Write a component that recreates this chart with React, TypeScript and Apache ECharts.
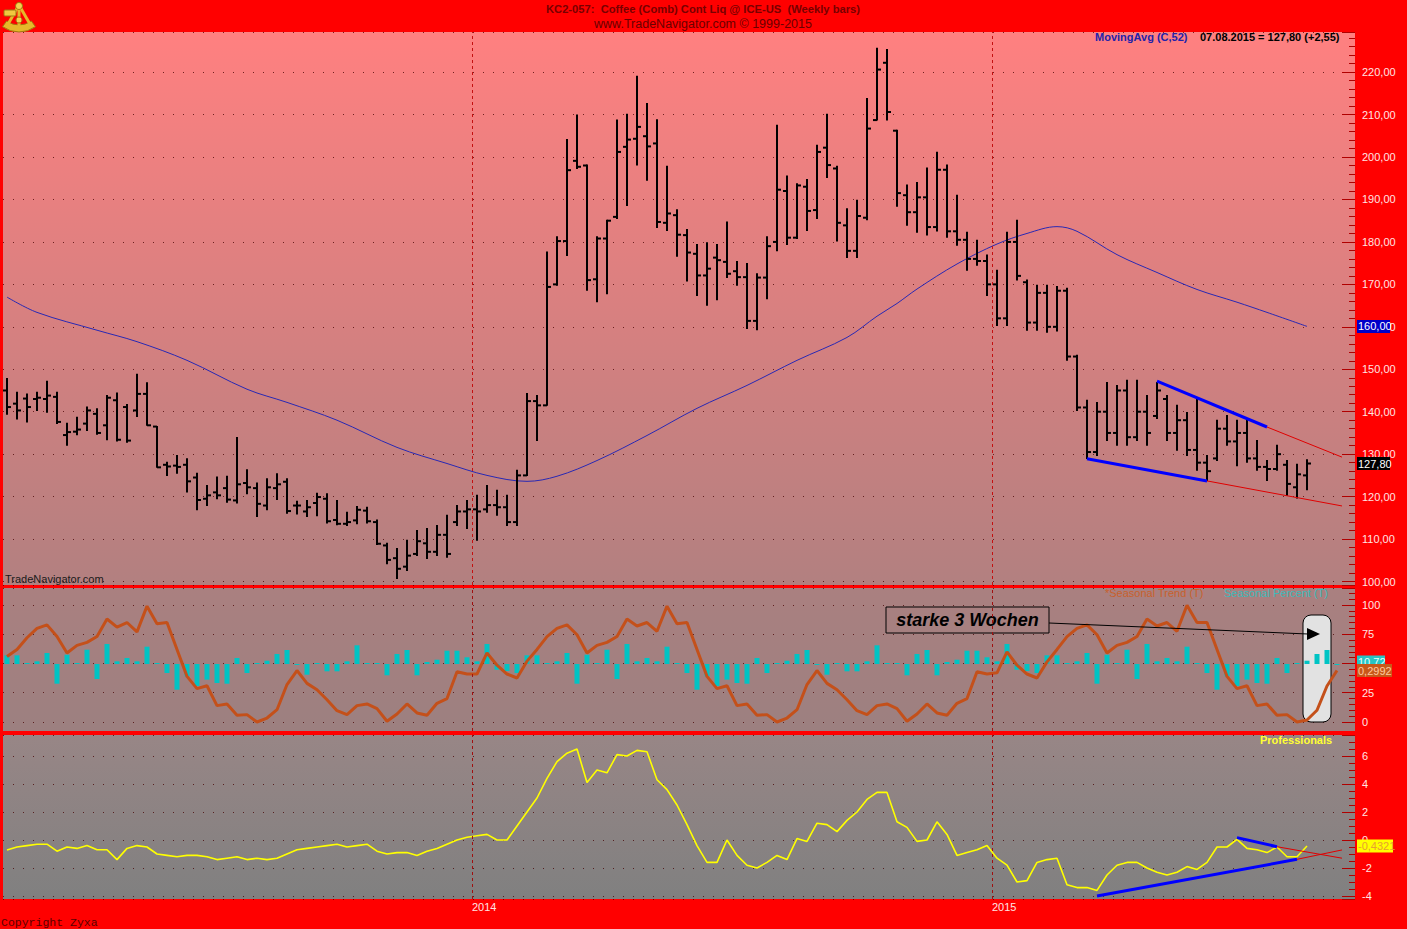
import React, { useEffect, useRef } from "react";
import * as echarts from "echarts";

// ---------------- DATA ----------------
// weekly bars [open, high, low, close], index 0 = week of 15.02.2013, index 130 = 07.08.2015
const OHLC: number[][] = [
  [145.0, 147.8, 139.4, 141.1], [141.9, 144.6, 138.3, 140.3], [143.1, 144.2, 137.6, 141.1], [143.0, 144.6, 140.3, 143.3],
  [143.0, 147.2, 139.9, 143.8], [143.5, 144.6, 137.2, 137.6], [134.5, 137.3, 132.1, 135.2], [135.3, 138.7, 134.6, 135.8],
  [137.2, 141.1, 135.6, 140.3], [139.5, 140.7, 134.7, 135.0], [136.8, 143.8, 133.4, 143.3], [142.7, 144.4, 133.1, 133.4],
  [141.1, 141.7, 132.8, 133.2], [140.3, 148.8, 138.9, 144.2], [144.2, 146.8, 136.8, 136.8], [136.5, 136.5, 126.9, 126.9],
  [127.5, 128.1, 125.0, 127.1], [127.3, 129.7, 125.5, 127.0], [127.5, 128.9, 121.1, 123.6], [124.5, 125.5, 116.9, 119.2],
  [119.5, 122.6, 117.9, 120.3], [121.0, 124.6, 119.5, 120.3], [122.0, 124.8, 118.7, 119.3], [119.1, 133.9, 118.5, 122.9],
  [123.2, 126.3, 120.7, 122.2], [122.0, 123.2, 115.3, 118.3], [117.9, 124.2, 116.9, 122.2], [122.0, 125.4, 119.3, 122.9],
  [123.5, 124.2, 116.1, 116.6], [117.9, 118.9, 115.9, 117.9], [116.5, 119.1, 115.3, 117.5], [118.5, 120.8, 115.5, 119.9],
  [119.5, 120.7, 113.8, 114.2], [114.5, 119.1, 113.4, 113.6], [113.6, 116.3, 113.2, 114.0], [114.4, 117.7, 113.6, 116.9],
  [116.7, 117.5, 113.8, 114.2], [114.0, 114.5, 108.7, 108.9], [108.5, 109.0, 104.2, 105.1], [105.5, 107.8, 100.7, 103.0],
  [103.5, 109.7, 102.6, 106.1], [106.5, 112.0, 106.1, 109.5], [109.0, 112.5, 105.4, 107.0], [107.0, 113.2, 106.1, 111.0],
  [111.0, 115.6, 105.7, 106.5], [114.0, 117.9, 113.2, 116.5], [116.5, 119.1, 112.5, 117.0], [117.0, 120.3, 109.7, 116.5],
  [117.0, 122.6, 116.3, 118.0], [118.0, 121.5, 115.6, 117.5], [117.5, 120.3, 113.2, 114.0], [114.0, 126.2, 113.2, 125.0],
  [125.0, 144.3, 125.0, 142.5], [142.5, 143.8, 133.2, 141.5], [141.5, 177.6, 141.5, 169.4], [170.0, 181.2, 169.8, 180.2],
  [180.2, 204.1, 176.8, 196.9], [199.1, 209.9, 197.3, 197.7], [198.0, 198.1, 168.6, 171.0], [171.2, 181.2, 165.9, 180.8],
  [180.8, 185.1, 167.8, 185.0], [185.9, 208.7, 185.5, 201.2], [202.4, 210.1, 188.6, 204.1], [204.3, 219.0, 198.1, 207.1],
  [204.9, 212.6, 194.5, 202.5], [203.2, 208.8, 183.4, 184.7], [184.5, 197.8, 182.7, 186.7], [186.3, 187.6, 176.6, 181.7],
  [181.6, 182.9, 170.8, 177.5], [177.2, 179.4, 167.4, 172.1], [172.1, 179.8, 165.1, 173.7], [176.3, 179.4, 166.4, 175.7],
  [175.3, 184.7, 171.6, 172.5], [173.1, 175.4, 169.8, 171.7], [171.7, 174.9, 159.6, 161.4], [161.4, 172.5, 159.3, 171.6],
  [171.6, 181.2, 166.6, 179.0], [180.0, 207.5, 177.9, 192.3], [192.0, 195.5, 179.4, 181.0], [181.0, 193.7, 180.8, 193.3],
  [193.0, 194.7, 182.7, 187.3], [187.5, 202.8, 185.5, 201.2], [202.2, 210.1, 195.2, 198.1], [197.3, 197.8, 180.2, 184.5],
  [183.9, 187.8, 176.3, 177.9], [177.9, 189.8, 176.3, 186.1], [185.7, 213.8, 185.2, 206.7], [208.7, 225.6, 208.7, 220.6],
  [222.2, 225.3, 208.7, 210.6], [206.2, 206.3, 188.4, 191.5], [191.0, 193.4, 183.9, 187.0], [187.0, 194.0, 182.3, 190.5],
  [190.5, 197.4, 181.6, 183.5], [183.5, 201.1, 182.6, 197.0], [197.0, 198.1, 181.1, 182.5], [182.5, 191.0, 179.2, 180.5],
  [180.5, 182.3, 173.3, 176.0], [176.0, 180.4, 174.5, 175.5], [175.5, 176.9, 167.4, 170.0], [170.0, 173.3, 160.3, 162.0],
  [162.0, 182.3, 160.3, 180.0], [180.0, 185.1, 171.0, 172.0], [170.5, 171.0, 159.2, 161.0], [161.0, 169.8, 159.2, 168.0],
  [168.0, 169.8, 158.7, 160.0], [160.0, 169.5, 159.0, 168.5], [168.5, 169.1, 152.1, 153.0], [153.0, 153.3, 140.3, 141.0],
  [141.0, 142.7, 129.0, 130.5], [130.5, 142.2, 129.7, 140.0], [140.0, 146.9, 133.2, 135.0], [135.0, 146.2, 132.1, 145.0],
  [145.0, 147.4, 132.1, 134.0], [134.0, 147.4, 133.2, 140.0], [140.0, 143.8, 132.1, 135.0], [139.0, 146.9, 138.4, 145.0],
  [143.0, 143.8, 133.2, 135.0], [135.0, 141.5, 130.9, 138.0], [138.0, 139.8, 129.7, 131.0], [131.0, 143.1, 126.2, 128.0],
  [128.0, 129.7, 123.8, 126.0], [129.0, 138.0, 128.5, 136.0], [136.0, 139.1, 132.1, 133.0], [133.0, 138.0, 127.3, 135.0],
  [135.0, 138.0, 128.1, 129.0], [129.0, 133.2, 126.2, 127.0], [127.0, 128.5, 123.8, 126.5], [126.5, 132.1, 126.2, 130.0],
  [127.5, 128.5, 120.3, 123.0], [122.2, 127.6, 119.7, 125.25], [125.0, 128.7, 121.6, 127.8],
];

// MovingAvg (C,52) read at [week index, value]
const MA_POINTS: number[][] = [
  [0, 167.0], [3, 163.4], [9, 159.2], [13, 156.5], [18, 152.1], [24, 145.3], [28, 142.2], [33, 138.0],
  [39, 131.6], [44, 127.8], [48, 125.0], [52, 123.6], [55, 124.8], [59, 128.5], [64, 134.4], [69, 140.8],
  [74, 146.2], [79, 152.1], [84, 157.5], [87, 162.5], [89, 165.5], [91, 168.9], [95, 174.8], [99, 179.5],
  [102, 182.0], [105, 183.6], [107, 182.5], [111, 177.0], [115, 172.8], [119, 168.8], [123, 165.8],
  [126, 163.4], [130, 160.1],
];

const SEASONAL_TREND: number[] = [
  56, 62, 72, 80, 83, 73, 59, 65.5, 68, 73, 88, 81, 85, 77, 99, 84, 85, 62, 39, 28.5, 31, 14, 15.4, 5.7, 6.3, 0,
  3.4, 10.5, 32, 44, 33, 27.6, 19, 9.7, 6.3, 14, 15.4, 11.4, 0.6, 6.8, 15.4, 7.7, 5.7, 16, 20, 43, 41, 41, 59, 48.5, 41, 37.6,
  52, 62, 73, 80, 83, 74.6, 59, 65.5, 68, 73, 88, 82, 85, 77.5, 99, 84, 85, 62, 39, 28.5, 31, 14, 15.4, 5.7, 6.3, 0,
  3.4, 10.5, 32, 44, 33, 27.6, 19, 9.7, 6.3, 14, 15.4, 11.4, 0.6, 6.8, 15.4, 7.7, 5.7, 16, 20, 43, 41, 42, 60, 48.5, 41, 37.6,
  51.4, 62, 73, 80, 83, 74.6, 59, 65.5, 68, 73, 88, 82, 85, 77.5, 99.8, 85, 85, 62, 39, 28.5, 31, 14, 15.4, 5.7, 6.3, 0,
  1.7, 10, 30.8, 44,
];

const SEASONAL_PERCENT: number[] = [
  8.7, 8.7, 1, 2.7, 11, -19.7, 9.3, 1, 14.3, -15, 20, 2.7, 6, 2.7, 17.3, 1, -9, -25.7, -12.3, -22, -15.7, -19, -19.7, 6, -9, 1,
  3.3, 10, 14, -1, -10.7, 1, -7.3, -7.3, 2.7, 18.7, 1, 1, -11.3, 10, 14, -11.3, 2, 4.3, 13.3, 13.3, 6.7, 2.7, 20, -5.7, -7, -9,
  8.7, 8.7, 1, 2.7, 11, -19.7, 9.3, 1, 14.3, -15, 20, 2.7, 6, 2.7, 17.3, 1, -9, -25.7, -12.3, -22, -15.7, -19, -19.7, 6, -9, 1,
  3.3, 10, 14, -1, -10.7, 1, -7.3, -7.3, 2.7, 18.7, 1, 1, -11.3, 10, 14, -11.3, 2, 4.3, 13.3, 13.3, 6.7, 2.7, 20, -5.7, -7, -9,
  8.7, 8.7, 1, 2.7, 11, -19.7, 9.3, 1, 14.3, -15, 20, 2.7, 6, 2.7, 17.3, 1, -9, -25.7, -12.3, -22, -15.7, -19, -19.7, 6, -9, 1,
  3.3, 10, 14, -1,
];

const PROFESSIONALS: number[] = [
  -0.71, -0.5, -0.4, -0.3, -0.3, -0.8, -0.5, -0.6, -0.4, -0.7,
  -0.7, -1.4, -0.6, -0.4, -0.5, -1.0, -1.1, -1.2, -1.1, -1.1,
  -1.2, -1.4, -1.3, -1.2, -1.4, -1.3, -1.4, -1.3, -1.0, -0.7,
  -0.6, -0.5, -0.4, -0.3, -0.5, -0.4, -0.3, -0.8, -1.0, -0.9,
  -0.9, -1.1, -0.8, -0.6, -0.3, 0.0, 0.2, 0.3, 0.4, 0.0,
  0.0, 1.0, 2.0, 3.0, 4.4, 5.6, 6.2, 6.5, 4.1, 5.0,
  4.8, 6.1, 6.0, 6.4, 6.3, 4.3, 3.6, 2.5, 1.1, -0.4,
  -1.6, -1.6, 0.0, -1.1, -1.8, -2.0, -1.6, -1.1, -1.4, 0.1,
  -0.1, 1.2, 1.1, 0.6, 1.4, 2.0, 2.9, 3.4, 3.4, 1.3,
  0.9, -0.1, 0.0, 1.3, 0.4, -1.1, -0.9, -0.7, -0.4, -1.3,
  -1.8, -3.0, -2.9, -1.6, -1.4, -1.3, -3.2, -3.4, -3.4, -3.6,
  -2.5, -1.8, -1.6, -1.6, -2.0, -2.3, -2.5, -2.3, -1.9, -2.1,
  -1.6, -0.5, -0.5, 0.05, -0.6, -0.7, -0.9, -0.5, -1.2, -1.2,
  -0.43,
];

// year boundaries (between week indices) and their labels
const YEAR_MARKS = [
  { pos: 46.5, label: "2014" },
  { pos: 98.5, label: "2015" },
];

// drawn trend lines [[x1, y1], [x2, y2]]
const PRICE_BLUE: number[][][] = [[[115, 147.2], [126, 136.4]], [[108, 128.9], [120, 123.7]]];
const PRICE_RED: number[][][] = [[[126, 136.4], [133.5, 129.3]], [[120, 123.7], [133.5, 117.8]]];
const PROF_BLUE: number[][][] = [[[123, 0.17], [127, -0.48]], [[109, -4.0], [129, -1.38]]];
const PROF_RED: number[][][] = [[[127, -0.48], [133.5, -1.3]], [[129, -1.38], [133.5, -0.71]]];

const TITLE_1 = "KC2-057:  Coffee (Comb) Cont Liq @ ICE-US  (Weekly bars)";
const TITLE_2 = "www.TradeNavigator.com \u00a9 1999-2015";
const MA_LEGEND = "MovingAvg (C,52)";
const LAST_INFO = "07.08.2015 = 127,80 (+2,55)";

const W = 1407;
const H = 929;
const FONT = "'Liberation Sans', Arial, sans-serif";

export default function App() {
  const ref = useRef<HTMLDivElement>(null);

  useEffect(() => {
    const el = ref.current;
    if (!el) return;
    const chart = echarts.init(el, null, { renderer: "svg", width: W, height: H });

    const tickColor = "#b00000";
    const labelColor = "#ffe4e4";
    const splitStyle = { color: "rgba(70,0,0,0.75)", type: [1, 9], width: 1 };
    const comma2 = (v: number) => v.toFixed(2).replace(".", ",");

    const gl = 3;
    const gw = 1352;
    const grids = [
      { left: gl, top: 32, width: gw, height: 553 },
      { left: gl, top: 588, width: gw, height: 143 },
      { left: gl, top: 588, width: gw, height: 134 },
      { left: gl, top: 735, width: gw, height: 164 },
    ];
    const xAxes = grids.map((_, i) => ({
      gridIndex: i, type: "value", min: -0.4, max: 134.8, show: false,
      axisLine: { show: false, onZero: false },
    }));

    const rightAxisCommon = {
      type: "value",
      position: "right",
      axisLine: { show: false, onZero: false },
      axisTick: { show: true, inside: true, length: 13, lineStyle: { color: tickColor } },
      splitLine: { show: true, lineStyle: splitStyle },
    };

    const yearLine = (color: string) => ({
      silent: true,
      symbol: ["none", "none"],
      label: { show: false },
      lineStyle: { color, type: [3, 3], width: 1 },
      data: YEAR_MARKS.map((m) => ({ xAxis: m.pos })),
    });

    const segSeries = (segs: number[][][], xi: number, yi: number, color: string, width: number) =>
      segs.map((s) => ({
        type: "line", xAxisIndex: xi, yAxisIndex: yi, data: s, symbol: "none", silent: true,
        lineStyle: { color, width }, z: 4, clip: false,
      }));

    const gold = "#e6b82a";
    const goldDark = "#a07810";

    const option: any = {
      animation: false,
      backgroundColor: "#ff0000",
      grid: grids,
      xAxis: xAxes,
      yAxis: [
        {
          ...rightAxisCommon, gridIndex: 0, min: 99.18, max: 229.45, splitNumber: 13,
          minorTick: { show: true, splitNumber: 5, length: 6, lineStyle: { color: tickColor } },
          axisLabel: {
            color: labelColor, fontSize: 11, fontFamily: FONT, margin: 7,
            showMinLabel: false, showMaxLabel: false, formatter: comma2,
          },
        },
        {
          gridIndex: 1, type: "value", min: -67, max: 76, show: false, splitLine: { show: false },
          axisLine: { show: false, onZero: false },
        },
        {
          ...rightAxisCommon, gridIndex: 2, min: 0, max: 114.5, interval: 25,
          minorTick: { show: true, splitNumber: 5, length: 6, lineStyle: { color: tickColor } },
          axisLabel: { color: labelColor, fontSize: 11, fontFamily: FONT, margin: 7, showMaxLabel: false },
        },
        {
          ...rightAxisCommon, gridIndex: 3, min: -4.214, max: 7.5, splitNumber: 6,
          minorTick: { show: true, splitNumber: 4, length: 6, lineStyle: { color: tickColor } },
          axisLabel: {
            color: labelColor, fontSize: 11, fontFamily: FONT, margin: 7,
            showMinLabel: false, showMaxLabel: false,
          },
        },
      ],
      series: [
        {
          type: "custom", xAxisIndex: 0, yAxisIndex: 0, z: 3,
          data: OHLC.map((d, i) => [i, d[0], d[1], d[2], d[3]]),
          encode: { x: 0, y: [1, 2, 3, 4] },
          renderItem: (_p: any, api: any) => {
            const i = api.value(0);
            const o = api.coord([i, api.value(1)]);
            const h = api.coord([i, api.value(2)]);
            const l = api.coord([i, api.value(3)]);
            const c = api.coord([i, api.value(4)]);
            const st = { stroke: "#000000", lineWidth: 2 };
            return {
              type: "group",
              children: [
                { type: "line", shape: { x1: h[0], y1: h[1] - 0.5, x2: l[0], y2: l[1] + 0.5 }, style: st },
                { type: "line", shape: { x1: o[0] - 4, y1: o[1], x2: o[0], y2: o[1] }, style: st },
                { type: "line", shape: { x1: c[0], y1: c[1], x2: c[0] + 4, y2: c[1] }, style: st },
              ],
            };
          },
        },
        {
          type: "line", xAxisIndex: 0, yAxisIndex: 0, data: MA_POINTS, symbol: "none", smooth: 0.35,
          lineStyle: { color: "#2828b4", width: 1 }, z: 2, silent: true,
          markLine: yearLine("#c41010"),
        },
        ...segSeries(PRICE_BLUE, 0, 0, "#0000ff", 3),
        ...segSeries(PRICE_RED, 0, 0, "#e00000", 1),
        {
          type: "bar", xAxisIndex: 1, yAxisIndex: 1, barWidth: 5, silent: true,
          data: SEASONAL_PERCENT.map((v, i) => [i, v]),
          itemStyle: { color: "#00c4c4" }, z: 2,
          markLine: yearLine("#a01010"),
        },
        {
          type: "line", xAxisIndex: 2, yAxisIndex: 2, symbol: "none", silent: true, clip: false,
          data: SEASONAL_TREND.map((v, i) => [i, v]),
          lineStyle: { color: "#c4501a", width: 3 }, z: 3,
        },
        {
          type: "line", xAxisIndex: 3, yAxisIndex: 3, symbol: "none", silent: true,
          data: PROFESSIONALS.map((v, i) => [i, v]),
          lineStyle: { color: "#ffff00", width: 1.6 }, z: 3,
          markLine: yearLine("#a01010"),
        },
        ...segSeries(PROF_BLUE, 3, 3, "#0000ff", 3),
        ...segSeries(PROF_RED, 3, 3, "#e00000", 1),
      ],
      graphic: [
        // panel backgrounds
        {
          id: "bg1", type: "rect", z: -10, silent: true,
          shape: { x: gl, y: 32, width: gw, height: 553 },
          style: { fill: new echarts.graphic.LinearGradient(0, 0, 0, 1, [
            { offset: 0, color: "#ff8080" }, { offset: 1, color: "#b28080" }]) },
        },
        {
          id: "bg2", type: "rect", z: -10, silent: true,
          shape: { x: gl, y: 588, width: gw, height: 143 },
          style: { fill: new echarts.graphic.LinearGradient(0, 0, 0, 1, [
            { offset: 0, color: "#aa8080" }, { offset: 1, color: "#9c8080" }]) },
        },
        {
          id: "bg3", type: "rect", z: -10, silent: true,
          shape: { x: gl, y: 735, width: gw, height: 164 },
          style: { fill: new echarts.graphic.LinearGradient(0, 0, 0, 1, [
            { offset: 0, color: "#988686" }, { offset: 1, color: "#808080" }]) },
        },
        // header
        {
          id: "t1", type: "text", z: 20, x: 703, y: 9, silent: true,
          style: { text: TITLE_1, fill: "#780000", font: `bold 11.2px ${FONT}`, align: "center", verticalAlign: "middle" },
        },
        {
          id: "t2", type: "text", z: 20, x: 703, y: 24, silent: true,
          style: { text: TITLE_2, fill: "#6a0000", font: `12.5px ${FONT}`, align: "center", verticalAlign: "middle" },
        },
        // logo (sextant)
        {
          id: "lg0", type: "sector", z: 20, silent: true,
          shape: { cx: 19, cy: 4, r0: 21, r: 28, startAngle: Math.PI * 0.3, endAngle: Math.PI * 0.7 },
          style: { fill: gold, stroke: goldDark, lineWidth: 1 },
        },
        { id: "lg2", type: "line", z: 20, silent: true, shape: { x1: 19, y1: 5, x2: 19, y2: 31 }, style: { stroke: gold, lineWidth: 3 } },
        { id: "lg3", type: "line", z: 20, silent: true, shape: { x1: 19, y1: 5, x2: 31, y2: 26 }, style: { stroke: gold, lineWidth: 3 } },
        { id: "lg4", type: "line", z: 20, silent: true, shape: { x1: 19, y1: 5, x2: 7, y2: 26 }, style: { stroke: gold, lineWidth: 3 } },
        { id: "lg5", type: "rect", z: 20, silent: true, shape: { x: 4, y: 10, width: 12, height: 6, r: 1 }, style: { fill: "#f0c840", stroke: goldDark, lineWidth: 1 } },
        { id: "lg6", type: "circle", z: 20, silent: true, shape: { cx: 19, cy: 6, r: 3.5 }, style: { fill: "#f4d050", stroke: goldDark, lineWidth: 1 } },
        { id: "lg7", type: "circle", z: 20, silent: true, shape: { cx: 19, cy: 20, r: 3 }, style: { fill: "#f4d050", stroke: goldDark, lineWidth: 1 } },
        // legends
        {
          id: "lma", type: "text", z: 20, x: 1095, y: 37, silent: true,
          style: { text: MA_LEGEND, fill: "#2222aa", font: `bold 11px ${FONT}`, verticalAlign: "middle" },
        },
        {
          id: "lli", type: "text", z: 20, x: 1200, y: 37, silent: true,
          style: { text: LAST_INFO, fill: "#000000", font: `bold 11px ${FONT}`, verticalAlign: "middle" },
        },
        {
          id: "lst", type: "text", z: 20, x: 1105, y: 593, silent: true,
          style: { text: "*Seasonal Trend (T)", fill: "#c8602c", font: `11px ${FONT}`, verticalAlign: "middle" },
        },
        {
          id: "lsp", type: "text", z: 20, x: 1224, y: 593, silent: true,
          style: { text: "Seasonal Percent (T)", fill: "#3cbaba", font: `11px ${FONT}`, verticalAlign: "middle" },
        },
        {
          id: "lpr", type: "text", z: 20, x: 1260, y: 740, silent: true,
          style: { text: "Professionals", fill: "#ffff33", font: `bold 11px ${FONT}`, verticalAlign: "middle" },
        },
        {
          id: "ltn", type: "text", z: 20, x: 5, y: 579, silent: true,
          style: { text: "TradeNavigator.com", fill: "#1a1a1a", font: `11px ${FONT}`, verticalAlign: "middle" },
        },
        {
          id: "lcp", type: "text", z: 20, x: 1, y: 922, silent: true,
          style: { text: "Copyright Zyxa", fill: "#5a0000", font: `11.5px 'Liberation Mono', 'Courier New', monospace`, verticalAlign: "middle" },
        },
        // annotation: starke 3 Wochen
        {
          id: "a1", type: "rect", z: 5, silent: true,
          shape: { x: 886, y: 607, width: 163, height: 26 },
          style: { fill: "none", stroke: "#000000", lineWidth: 1 },
        },
        {
          id: "a2", type: "text", z: 5, x: 967.5, y: 620, silent: true,
          style: { text: "starke 3 Wochen", fill: "#000000", font: `italic bold 18px ${FONT}`, align: "center", verticalAlign: "middle" },
        },
        {
          id: "a3", type: "rect", z: 1, silent: true,
          shape: { x: 1303, y: 615, width: 28, height: 107, r: 8 },
          style: { fill: "#e2e2e2", stroke: "#000000", lineWidth: 1 },
        },
        {
          id: "a4", type: "line", z: 5, silent: true,
          shape: { x1: 1049, y1: 623, x2: 1308, y2: 634 },
          style: { stroke: "#000000", lineWidth: 1 },
        },
        {
          id: "a5", type: "polygon", z: 5, silent: true,
          shape: { points: [[1307, 628], [1320, 634], [1307, 640]] },
          style: { fill: "#000000" },
        },
      ],
    };

    chart.setOption(option);

    // value boxes and year labels positioned via the chart's scales
    const yOf = (seriesIndex: number, x: number, v: number) =>
      (chart.convertToPixel({ seriesIndex }, [x, v]) as number[])[1];
    const bx = gl + gw + 2;
    const boxes = [
      { id: "bma", y: yOf(1, 130, MA_POINTS[MA_POINTS.length - 1][1]), w: 33, text: "160,00", bg: "#0000c8", fg: "#ffffff" },
      { id: "bcl", y: yOf(0, 130, OHLC[130][3]), w: 33, text: "127,80", bg: "#000000", fg: "#ffffff" },
      { id: "bsp", y: yOf(6, 133, SEASONAL_PERCENT[133]) - 3, w: 28, text: "10,72", bg: "#28c4c4", fg: "#e8ffff" },
      { id: "bst", y: yOf(7, 133, SEASONAL_TREND[133]), w: 35, text: "0,2992", bg: "#c8581a", fg: "#ffc8a0" },
      { id: "bpr", y: yOf(8, 130, PROFESSIONALS[130]), w: 36, text: "-0,4321", bg: "#ffff00", fg: "#e8a030" },
    ];
    const extra: any[] = [];
    boxes.forEach((b, k) => {
      extra.push({
        id: b.id + "r", type: "rect", z: 20 + k, silent: true,
        shape: { x: bx, y: b.y - 6.5, width: b.w, height: 13 },
        style: { fill: b.bg },
      });
      extra.push({
        id: b.id + "t", type: "text", z: 20 + k, x: bx + 1, y: b.y, silent: true,
        style: { text: b.text, fill: b.fg, font: `11px ${FONT}`, verticalAlign: "middle" },
      });
    });
    YEAR_MARKS.forEach((m, k) => {
      const px = chart.convertToPixel({ xAxisIndex: 3 }, m.pos) as number;
      extra.push({
        id: "yl" + k, type: "text", z: 20, x: px, y: 907, silent: true,
        style: { text: m.label, fill: "#ffe4e4", font: `11px ${FONT}`, verticalAlign: "middle" },
      });
    });
    chart.setOption({ graphic: extra });

    return () => {
      chart.dispose();
    };
  }, []);

  return (
    <div
      ref={ref}
      style={{ position: "fixed", left: 0, top: 0, width: W, height: H }}
    />
  );
}
